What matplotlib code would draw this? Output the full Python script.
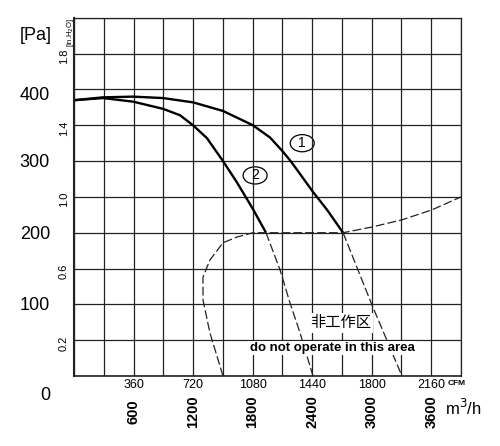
import matplotlib as mpl
mpl.use('Agg')
import matplotlib.pyplot as plt
from matplotlib.patches import Ellipse

# fan curves, x in CFM, y in Pa
c1_x = [0, 175, 357, 538, 720, 901, 1082, 1185, 1264, 1310, 1348, 1445, 1530, 1627]
c1_y = [385, 389, 390, 388, 382, 370, 350, 333, 313, 300, 288, 257, 232, 200]
c1_dash_x = [1627, 1802, 1983]
c1_dash_y = [200, 99, 0]

c2_x = [0, 175, 357, 538, 641, 720, 804, 901, 986, 1082, 1161]
c2_y = [385, 388, 383, 373, 364, 350, 332, 300, 270, 233, 200]
c2_dash_x = [1161, 1246, 1306, 1367, 1445]
c2_dash_y = [200, 148, 102, 60, 0]

# limit of operating area
lim_x = [901, 822, 780, 780, 822, 901, 986, 1082, 1627, 1802, 1983, 2165, 2340]
lim_y = [0, 60, 106, 138, 162, 186, 194, 200, 200, 208, 218, 232, 250]

cfm_ticks = [360, 720, 1080, 1440, 1800, 2160]
m3h_labels = ['600', '1200', '1800', '2400', '3000', '3600']
pa_ticks = [100, 200, 300, 400]
inh2o_pos = [450, 350, 250, 150, 50]
inh2o_labels = ['1.8', '1.4', '1.0', '0.6', '0.2']

FONT = ['Liberation Sans', 'DejaVu Sans']
CJK = ['Noto Sans CJK SC', 'DejaVu Sans']

fig = plt.figure(figsize=(5, 4.46), dpi=100)
ax = fig.add_axes([0.148, 0.157, 0.774, 0.803])
ax.set_xlim(0, 2340)
ax.set_ylim(0, 500)
ax.set_xticks(range(0, 2341, 180))
ax.set_yticks(range(0, 501, 50))
ax.grid(True, color='#222222', lw=0.9)
ax.tick_params(length=0, labelbottom=False, labelleft=False)
for s in ax.spines.values():
    s.set_color('#222222')
    s.set_linewidth(0.9)
ax.spines['left'].set_linewidth(1.5)
ax.spines['bottom'].set_linewidth(1.2)

ax.plot(c1_x, c1_y, color='black', lw=1.7, solid_capstyle='butt')
ax.plot(c2_x, c2_y, color='black', lw=1.7, solid_capstyle='butt')
ax.plot(c1_dash_x, c1_dash_y, color='#222222', lw=0.9, dashes=(7, 2.5))
ax.plot(c2_dash_x, c2_dash_y, color='#222222', lw=0.9, dashes=(7, 2.5))
ax.plot(lim_x, lim_y, color='#222222', lw=0.9, dashes=(7, 2.5))

# circled curve numbers
for num, cx, cy in [('1', 1380, 325), ('2', 1095, 280)]:
    ax.add_patch(Ellipse((cx, cy), 145, 24, fill=False, lw=0.9, color='black'))
    ax.text(cx, cy, num, ha='center', va='center', fontsize=10, family=FONT)

ax.text(1615, 74, '非工作区', ha='center', va='center', fontsize=11, family=CJK,
        bbox=dict(facecolor='white', edgecolor='none', pad=1))
ax.text(1560, 39, 'do not operate in this area', ha='center', va='center', fontsize=9.5,
        fontweight='bold', family=FONT,
        bbox=dict(facecolor='white', edgecolor='none', pad=1))

xt = ax.get_xaxis_transform()
for v, m in zip(cfm_ticks, m3h_labels):
    ax.text(v, -0.025, str(v), transform=xt, ha='center', va='center', fontsize=9, family=FONT)
    ax.text(v, -0.10, m, transform=xt, ha='center', va='center', fontsize=10.5,
            fontweight='bold', rotation=90, family=FONT)
ax.text(2258, -0.022, 'CFM', transform=xt, ha='left', va='center', fontsize=6,
        fontweight='bold', family=FONT)
ax.text(2243, -0.09, 'm$^3$/h', transform=xt, ha='left', va='center', fontsize=12,
        family=FONT)

yt = ax.get_yaxis_transform()
for v in pa_ticks:
    off = 8 if v == 400 else 2
    ax.text(-0.062, v - off, str(v), transform=yt, ha='right', va='center', fontsize=13, family=FONT)
ax.text(-0.062, -27, '0', transform=yt, ha='right', va='center', fontsize=13, family=FONT)
for v, lab in zip(inh2o_pos, inh2o_labels):
    ax.text(-0.026, v - 4, lab, transform=yt, ha='center', va='center', fontsize=8,
            rotation=90, family=FONT)
ax.text(-0.10, 476, '[Pa]', transform=yt, ha='center', va='center', fontsize=13, family=FONT)
ax.text(-0.01, 480, '[in.H$_2$O]', transform=yt, ha='center', va='center', fontsize=5.5,
        rotation=90, family=FONT)

fig.savefig('out.png', dpi=100)
